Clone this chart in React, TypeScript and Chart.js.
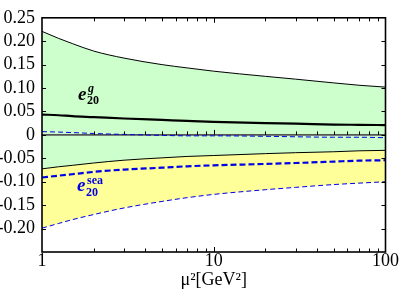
import React, { useEffect, useRef } from 'react';
import { Chart, registerables } from 'chart.js';
Chart.register(...registerables);

// mu^2 grid [GeV^2]
const mu2 = [1, 1.25, 1.5, 2, 3, 5, 7, 10, 20, 30, 50, 70, 100];
// gluon band (upper / lower) and central value
const gUpper = [0.221, 0.206, 0.195, 0.179, 0.164, 0.15, 0.143, 0.136, 0.125, 0.119, 0.111, 0.106, 0.102];
const gLower = [-0.0725, -0.068, -0.065, -0.06, -0.054, -0.049, -0.046, -0.044, -0.04, -0.038, -0.036, -0.034, -0.033];
const gCentral = [0.0435, 0.042, 0.04, 0.038, 0.035, 0.032, 0.03, 0.028, 0.025, 0.024, 0.022, 0.0215, 0.021];
// sea curves
const seaUpper = [0.007, 0.006, 0.005, 0.003, 0.001, -0.001, -0.002, -0.002, -0.003, -0.004, -0.005, -0.005, -0.006];
const seaCentral = [-0.091, -0.087, -0.084, -0.079, -0.074, -0.07, -0.067, -0.065, -0.062, -0.06, -0.057, -0.055, -0.054];
const seaLower = [-0.199, -0.189, -0.181, -0.17, -0.156, -0.142, -0.134, -0.127, -0.117, -0.112, -0.106, -0.103, -0.1];
const zeroLine = [0, 0, 0, 0, 0, 0, 0, 0, 0, 0, 0, 0, 0];
// tick settings
const xLabels = [1, 10, 100];
const xTickPositions = [2, 3, 4, 5, 6, 7, 8, 9, 10, 20, 30, 40, 50, 60, 70, 80, 90];
const yTickPositions = [-0.2, -0.15, -0.1, -0.05, 0, 0.05, 0.1, 0.15, 0.2];

const pts = (arr: number[]) => mu2.map((x, i) => ({ x, y: arr[i] }));

const BLUE = '#0000e6';
const SERIF = "'Liberation Serif', 'DejaVu Serif', serif";

const framePlugin = {
  id: 'frame',
  afterDatasetsDraw(chart: any) {
    const { ctx, chartArea: a, scales } = chart;
    const xs = scales.x, ys = scales.y;
    ctx.save();
    ctx.strokeStyle = '#000';
    ctx.lineWidth = 1;
    const y0 = ys.getPixelForValue(0);
    ctx.beginPath();
    for (const v of xTickPositions) {
      const px = Math.round(xs.getPixelForValue(v)) + 0.5;
      const len = v === 10 ? 5 : 3.5;
      ctx.moveTo(px, a.bottom); ctx.lineTo(px, a.bottom - len);
      ctx.moveTo(px, a.top); ctx.lineTo(px, a.top + len);
      ctx.moveTo(px, y0); ctx.lineTo(px, y0 - len);
    }
    for (const v of yTickPositions) {
      const py = Math.round(ys.getPixelForValue(v)) + 0.5;
      ctx.moveTo(a.left, py); ctx.lineTo(a.left + 4, py);
      ctx.moveTo(a.right, py); ctx.lineTo(a.right - 4, py);
    }
    ctx.stroke();
    ctx.lineWidth = 1.6;
    ctx.strokeRect(a.left, a.top, a.right - a.left, a.bottom - a.top);
    ctx.restore();
  },
};

const labelPlugin = {
  id: 'curveLabels',
  afterDatasetsDraw(chart: any) {
    const { ctx, scales } = chart;
    const xs = scales.x, ys = scales.y;
    ctx.save();
    ctx.textBaseline = 'alphabetic';
    ctx.textAlign = 'left';
    // e^g_20
    let x = xs.getPixelForValue(1.62), y = ys.getPixelForValue(0.074);
    ctx.fillStyle = '#000';
    ctx.font = `italic bold 19px ${SERIF}`;
    ctx.fillText('e', x, y);
    ctx.font = `italic bold 12px ${SERIF}`;
    ctx.fillText('g', x + 10, y - 8);
    ctx.font = `bold 12px ${SERIF}`;
    ctx.fillText('20', x + 9, y + 4);
    // e^sea_20
    x = xs.getPixelForValue(1.6); y = ys.getPixelForValue(-0.12);
    ctx.fillStyle = BLUE;
    ctx.font = `italic bold 19px ${SERIF}`;
    ctx.fillText('e', x, y);
    ctx.font = `bold 12px ${SERIF}`;
    ctx.fillText('sea', x + 10, y - 7);
    ctx.fillText('20', x + 9, y + 5);
    ctx.restore();
  },
};

export default function App() {
  const ref = useRef<HTMLCanvasElement>(null);
  useEffect(() => {
    const line = (data: number[], color: string, width: number, dash: number[] = [], extra: any = {}) => ({
      data: pts(data),
      borderColor: color,
      borderWidth: width,
      borderDash: dash,
      pointRadius: 0,
      cubicInterpolationMode: 'monotone',
      fill: false,
      ...extra,
    });
    const chart = new Chart(ref.current!, {
      type: 'line',
      data: {
        datasets: [
          line(gCentral, '#000', 2.2),
          line(seaCentral, BLUE, 2.2, [6, 3]),
          line(seaUpper, BLUE, 1, [5, 3]),
          line(seaLower, BLUE, 1, [5, 3]),
          line(gUpper, '#000', 1, [], { fill: 5, backgroundColor: 'rgb(204,255,204)' }),
          line(gLower, '#000', 1, [], { fill: 3, backgroundColor: 'rgb(255,255,153)' }),
          line(zeroLine, '#555', 1.8),
        ] as any,
      },
      options: {
        responsive: false,
        animation: false,
        events: [],
        layout: { padding: { top: 5, right: 12, left: 0, bottom: 0 } },
        plugins: {
          legend: { display: false },
          tooltip: { enabled: false },
          filler: { drawTime: 'beforeDatasetsDraw' } as any,
        },
        scales: {
          x: {
            type: 'logarithmic',
            min: 1,
            max: 100,
            grid: { display: false, drawTicks: false },
            border: { display: false },
            ticks: {
              autoSkip: false,
              maxRotation: 0,
              padding: 0,
              color: '#000',
              font: { family: SERIF, size: 18, lineHeight: 1 },
              callback: (v: any) => (xLabels.includes(Number(v)) ? String(v) : ''),
            },
            title: {
              display: true,
              text: 'μ²[GeV²]',
              color: '#000',
              font: { family: SERIF, size: 18, lineHeight: 1.2 },
              padding: { top: 0, bottom: 0 },
            },
            afterFit: (s: any) => { s.height = 39; },
          },
          y: {
            type: 'linear',
            min: -0.25,
            max: 0.25,
            grid: { display: false, drawTicks: false },
            border: { display: false },
            ticks: {
              stepSize: 0.05,
              autoSkip: false,
              padding: 7,
              color: '#000',
              font: { family: SERIF, size: 18 },
              callback: (v: any) => {
                const r = Math.round(Number(v) * 100);
                if (r === -25) return '';
                if (r === 0) return '0';
                return (r < 0 ? '-' : '') + (Math.abs(r) / 100).toFixed(2);
              },
            },
            afterFit: (s: any) => { s.width = 42; },
          },
        },
      },
      plugins: [framePlugin, labelPlugin],
    });
    return () => chart.destroy();
  }, []);
  return (
    <div style={{ position: 'fixed', left: 0, top: 0, width: 399, height: 291, background: '#fff' }}>
      <canvas ref={ref} width={399} height={291} style={{ width: 399, height: 291 }} />
    </div>
  );
}
